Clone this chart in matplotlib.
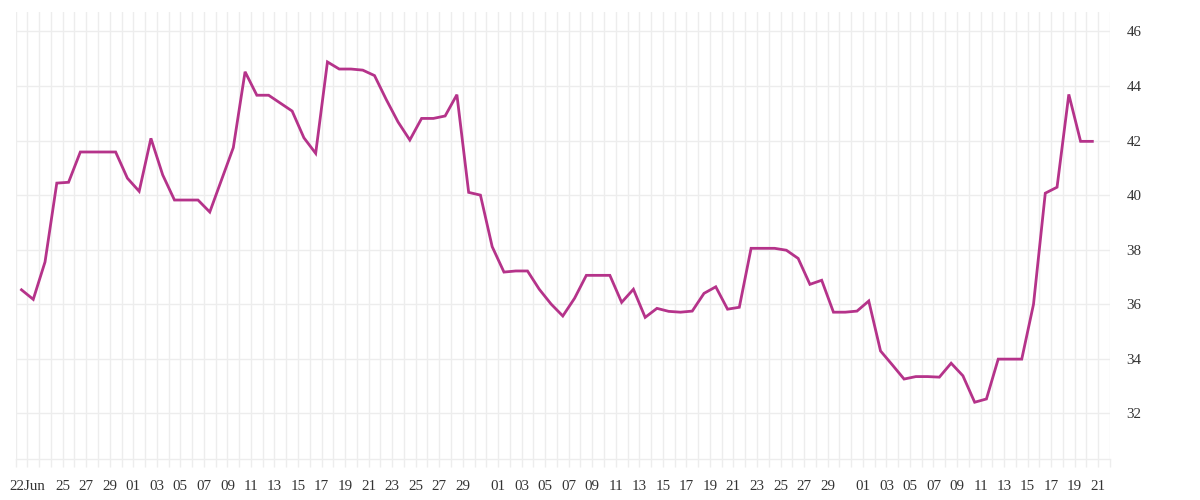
import pandas as pd
import matplotlib
matplotlib.use("Agg")
import matplotlib.pyplot as plt
import matplotlib.dates as mdates

# daily values, 21 Jun .. 20 Sep
start_day = "2023-06-21 12:00"
values = [
    36.53, 36.18, 37.55, 40.44, 40.47, 41.58, 41.58, 41.58, 41.58, 40.62,
    40.14, 42.08, 40.74, 39.82, 39.82, 39.82, 39.38, 40.56, 41.74, 44.52,
    43.66, 43.66, 43.37, 43.08, 42.10, 41.53, 44.88, 44.62, 44.62, 44.58,
    44.38, 43.50, 42.68, 42.02, 42.81, 42.81, 42.90, 43.68, 40.10, 40.00,
    38.11, 37.18, 37.22, 37.22, 36.55, 36.01, 35.57, 36.22, 37.06, 37.06,
    37.06, 36.07, 36.55, 35.52, 35.85, 35.74, 35.71, 35.75, 36.40, 36.64,
    35.82, 35.89, 38.05, 38.05, 38.05, 37.98, 37.68, 36.73, 36.88, 35.71,
    35.71, 35.75, 36.12, 34.29, 33.78, 33.26, 33.35, 33.35, 33.33, 33.84,
    33.38, 32.41, 32.53, 33.99, 33.99, 33.99, 36.00, 40.07, 40.29, 43.69,
    41.97, 41.97,
]
y_ticks = [32, 34, 36, 38, 40, 42, 44, 46]

dates = pd.date_range(start_day, periods=len(values), freq="D")

# labelled days: 22 Jun, then every 2nd day restarting each month
tick_days = [pd.Timestamp("2023-06-22")]
tick_days += list(pd.date_range("2023-06-25", "2023-06-29", freq="2D"))
for m in ["07", "08"]:
    tick_days += list(pd.date_range(f"2023-{m}-01", f"2023-{m}-29", freq="2D"))
tick_days += list(pd.date_range("2023-09-01", "2023-09-21", freq="2D"))
tick_labels = ["22Jun"] + [d.strftime("%d") for d in tick_days[1:]]

plt.rcParams["font.family"] = ["Liberation Serif", "DejaVu Serif"]

fig = plt.figure(figsize=(12, 5), dpi=100)
ax = fig.add_axes([0.013, 0.082, 0.912, 0.894])

ax.plot(dates, values, color="#b5338a", linewidth=2.0, solid_joinstyle="miter")

ax.set_xlim(pd.Timestamp("2023-06-21"), pd.Timestamp("2023-09-22"))
ax.set_ylim(30.33, 46.71)

ax.set_xticks(tick_days)
ax.set_xticklabels(tick_labels)
ax.xaxis.set_minor_locator(mdates.DayLocator())
ax.set_yticks(y_ticks)
ax.yaxis.tick_right()

grid_col = "#ededed"
ax.grid(True, which="both", axis="x", color=grid_col, linewidth=1)
ax.grid(True, which="major", axis="y", color=grid_col, linewidth=1)
ax.set_axisbelow(True)

for side in ["top", "left", "right"]:
    ax.spines[side].set_visible(False)
ax.spines["bottom"].set_color(grid_col)
ax.spines["bottom"].set_linewidth(1)

ax.tick_params(axis="x", which="both", length=6, color=grid_col, width=1,
               labelsize=10.8, labelcolor="#333333", pad=9)
ax.tick_params(axis="y", length=0, labelsize=10.8, labelcolor="#333333", pad=12)

fig.savefig("out.png", dpi=100, facecolor="white")
